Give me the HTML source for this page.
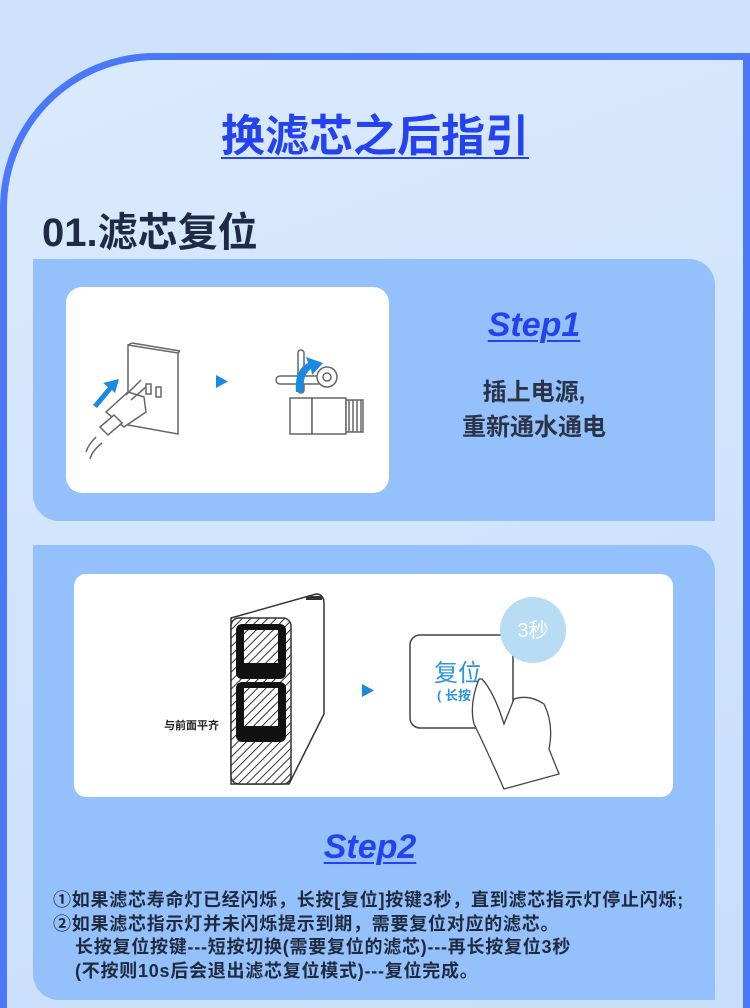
<!DOCTYPE html>
<html><head><meta charset="utf-8"><style>
*{margin:0;padding:0;box-sizing:border-box}
html,body{width:750px;height:1008px;overflow:hidden}
body{background:#cfe2fc;font-family:"Liberation Sans","Noto Sans CJK SC",sans-serif;position:relative}
.frame{position:absolute;left:0;top:53px;width:760px;height:1000px;border:7px solid #4a78f8;border-bottom:none;border-top-left-radius:155px;background:linear-gradient(160deg,#dbeafd,#c6ddfb);}
.frame2{position:absolute;left:743px;top:53px;width:7px;height:960px;background:#4a78f8}
.abs{position:absolute}
.title{left:0;width:750px;top:100px;text-align:center;font-size:44px;font-weight:bold;color:#2443ef;text-decoration:underline;text-underline-offset:6px;text-decoration-thickness:2px}
.h2{left:42px;top:200px;font-size:40px;font-weight:bold;color:#1f2b45}
.panel{position:absolute;left:33px;width:682px;background:#94c0fc}
.card{position:absolute;background:#fff}
.step{font-family:"Liberation Sans",sans-serif;font-style:italic;font-weight:bold;color:#2443ef;text-decoration:underline;text-decoration-thickness:2px;text-underline-offset:4px;font-size:34px;text-align:center}
.t{font-size:24px;font-weight:bold;color:#2b3447;text-align:center;line-height:35px}
.body{left:53px;top:889px;font-size:18px;letter-spacing:0.75px;font-weight:bold;color:#1f2a3d;line-height:23.5px;white-space:nowrap}
.ind{padding-left:22px}
</style></head><body>
<div class="frame"></div>
<div class="frame2"></div>
<div class="abs title">换滤芯之后指引</div>
<div class="abs h2">01.滤芯复位</div>

<div class="panel" style="top:259px;height:262px;border-top-right-radius:26px;border-bottom-left-radius:26px"></div>
<div class="card" style="left:66px;top:287px;width:323px;height:206px;border-radius:16px">
<svg width="323" height="206" viewBox="0 0 323 206">
<g fill="none" stroke="#666" stroke-width="1.5">
<polygon points="62,58 112,66 112,147 62,138" fill="#fff"/>
<line x1="62" y1="58" x2="66" y2="56"/><line x1="66" y1="56" x2="114" y2="64"/><line x1="114" y1="64" x2="112" y2="66"/>
<rect x="80" y="97" width="5" height="10"/><rect x="90" y="100" width="5" height="10"/>
<path d="M40 125 L62 105 L78 110 L80 125 L58 140 Z" fill="#fff"/>
<path d="M30 150 Q22 158 20 165"/><path d="M36 156 Q26 164 24 172"/>
<path d="M34 140 L48 128 L56 136 L42 148 Z" fill="#fff"/>
<line x1="60" y1="108" x2="75" y2="93"/><line x1="65" y1="113" x2="80" y2="100"/>
<rect x="232" y="63" width="6" height="43" rx="3" fill="#fff"/>
<rect x="210" y="89" width="46" height="8" rx="4" fill="#fff"/>
<circle cx="261" cy="90" r="10" fill="#fff"/><circle cx="261" cy="90" r="4"/>
<rect x="224" y="111" width="22" height="36" fill="#fff"/>
<rect x="246" y="111" width="34" height="36" fill="#fff"/>
<rect x="280" y="113" width="17" height="32" fill="#fff"/>
<line x1="283" y1="113" x2="283" y2="145"/><line x1="287" y1="113" x2="287" y2="145"/><line x1="291" y1="113" x2="291" y2="145"/><line x1="295" y1="113" x2="295" y2="145"/>
</g>
<path d="M27 118 L42 100 L37 96 L53 92 L49 106 L46 103 L31 121 Z" fill="#1a8ae0"/>
<path d="M230 105 Q228 83 242 76 L240 70 L257 76 L246 88 L245 82 Q236 88 238 105 Z" fill="#1a8ae0"/>
<polygon points="150,88 150,101 162,94.5" fill="#1a8ae0"/>
</svg></div>
<div class="abs step" style="left:434px;width:200px;top:306px">Step1</div>
<div class="abs t" style="left:434px;width:200px;top:375px">插上电源,<br>重新通水通电</div>

<div class="panel" style="top:545px;height:455px;border-top-right-radius:26px;border-bottom-left-radius:26px"></div>
<div class="card" style="left:74px;top:574px;width:599px;height:223px;border-radius:12px">
<svg width="599" height="223" viewBox="0 0 599 223">
<defs><pattern id="h" width="6" height="6" patternUnits="userSpaceOnUse" patternTransform="rotate(45)"><rect width="6" height="6" fill="#fff"/><line x1="0" y1="0" x2="0" y2="6" stroke="#333" stroke-width="2"/></pattern></defs>
<path d="M157 44 L242 20 Q250 20 250 30 L250 140 L215 210 L157 210 Z" fill="#fff" stroke="#333" stroke-width="1.5"/>
<rect x="157" y="44" width="60" height="166" rx="8" fill="url(#h)" stroke="#333" stroke-width="1.5"/>
<rect x="162" y="50" width="50" height="55" rx="6" fill="#111"/>
<rect x="170" y="56" width="34" height="33" fill="url(#h)"/>
<rect x="162" y="108" width="50" height="60" rx="6" fill="#111"/>
<rect x="170" y="114" width="34" height="38" fill="url(#h)"/>
<rect x="232" y="22" width="16" height="4" fill="#333"/>
<text x="90" y="155" font-size="11" font-weight="bold" fill="#222" font-family="Liberation Sans,Noto Sans CJK SC,sans-serif">与前面平齐</text>
<polygon points="288,110 288,123 300,116.5" fill="#1a8ae0"/>
<rect x="336" y="61" width="103" height="93" rx="10" fill="#fff" stroke="#444" stroke-width="1.5"/>
<circle cx="459" cy="56" r="33" fill="#b8dcf4"/>
<text x="459" y="63" font-size="20" fill="#fff" text-anchor="middle" font-family="Liberation Sans,Noto Sans CJK SC,sans-serif">3秒</text>
<text x="360" y="107" font-size="24" fill="#2a95dc" font-family="Liberation Sans,Noto Sans CJK SC,sans-serif">复位</text>
<text x="363" y="126" font-size="13" font-weight="bold" fill="#2a95dc" font-family="Liberation Sans,Noto Sans CJK SC,sans-serif">( 长按</text>
<path d="M408 105 Q420 118 430 150 L440 125 Q455 120 470 130 Q480 150 475 175 L485 200 L430 215 Q410 170 400 150 Q395 130 405 105 Z" fill="#fff" stroke="#444" stroke-width="1.3"/>
</svg></div>
<div class="abs step" style="left:270px;width:200px;top:828px">Step2</div>
<div class="abs body">①如果滤芯寿命灯已经闪烁，长按[复位]按键3秒，直到滤芯指示灯停止闪烁;<br>②如果滤芯指示灯并未闪烁提示到期，需要复位对应的滤芯。<br><span class="ind">长按复位按键---短按切换(需要复位的滤芯)---再长按复位3秒</span><br><span class="ind">(不按则10s后会退出滤芯复位模式)---复位完成。</span></div>
</body></html>
